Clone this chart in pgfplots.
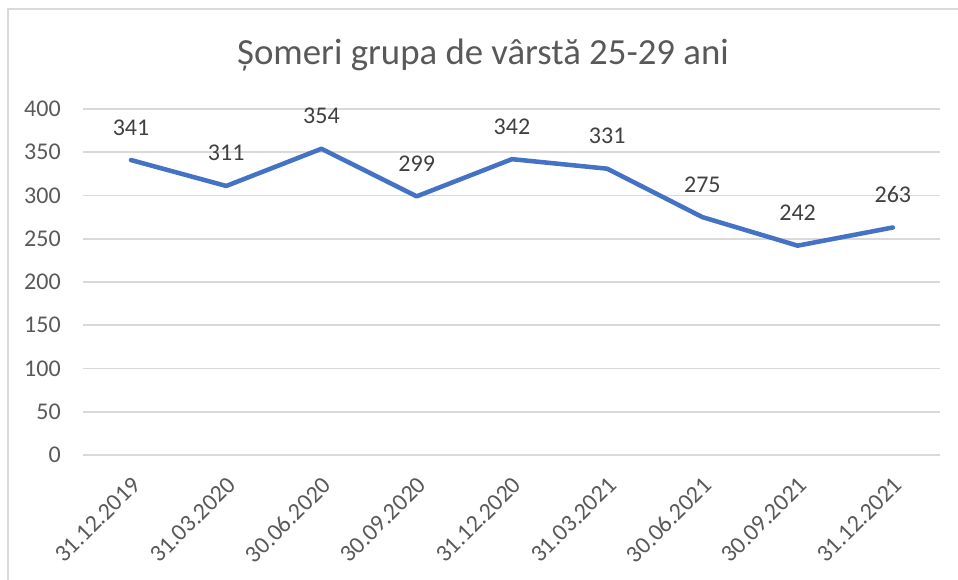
\documentclass[border=0pt]{standalone}
\usepackage{fontspec}
\setmainfont{Carlito}
\usepackage{pgfplots}
\pgfplotsset{compat=1.18}
\definecolor{lineblue}{HTML}{4472C4}
\definecolor{txtgray}{HTML}{595959}
\definecolor{lblgray}{HTML}{404040}
\definecolor{gridgray}{HTML}{D9D9D9}
\begin{document}
\begin{tikzpicture}
\useasboundingbox (0,0) rectangle (718.5pt,435pt);
\draw[gridgray, line width=0.9pt] (6pt,-2pt) -- (6pt,428.25pt) -- (720pt,428.25pt);
\node[anchor=base, font=\fontsize{27.6}{31}\selectfont, text=txtgray, inner sep=0] at (362.25pt,386.8pt) {Șomeri grupa de vârstă 25-29 ani};
\begin{axis}[
  at={(62.55pt,93.75pt)}, anchor=south west,
  scale only axis, width=642.8pt, height=259.5pt,
  xmin=-0.5, xmax=8.5, ymin=0, ymax=400,
  xtick={0,...,8},
  xticklabels={31.12.2019,31.03.2020,30.06.2020,30.09.2020,31.12.2020,31.03.2021,30.06.2021,30.09.2021,31.12.2021},
  ytick={0,50,...,400},
  axis line style={draw=none},
  major tick length=0pt,
  ymajorgrids, grid style={gridgray, line width=1.2pt},
  /pgf/number format/assume math mode=true,
  tick label style={font=\fontsize{18}{21}\selectfont, text=txtgray},
  yticklabel style={inner sep=0pt, anchor=east, xshift=-16.8pt},
  xticklabel style={inner sep=0pt, xshift=4pt, yshift=-19.5pt, rotate=45, anchor=east},
  clip=false,
]
\addplot[lineblue, line width=3.4pt, line join=round, line cap=round,
  nodes near coords,
  every node near coord/.append style={anchor=base, yshift=18.75pt, font=\fontsize{18}{21}\selectfont, text=lblgray, inner sep=0pt},
] coordinates {(0,341) (1,311) (2,354) (3,299) (4,342) (5,331) (6,275) (7,242) (8,263)};
\end{axis}
\end{tikzpicture}
\end{document}
